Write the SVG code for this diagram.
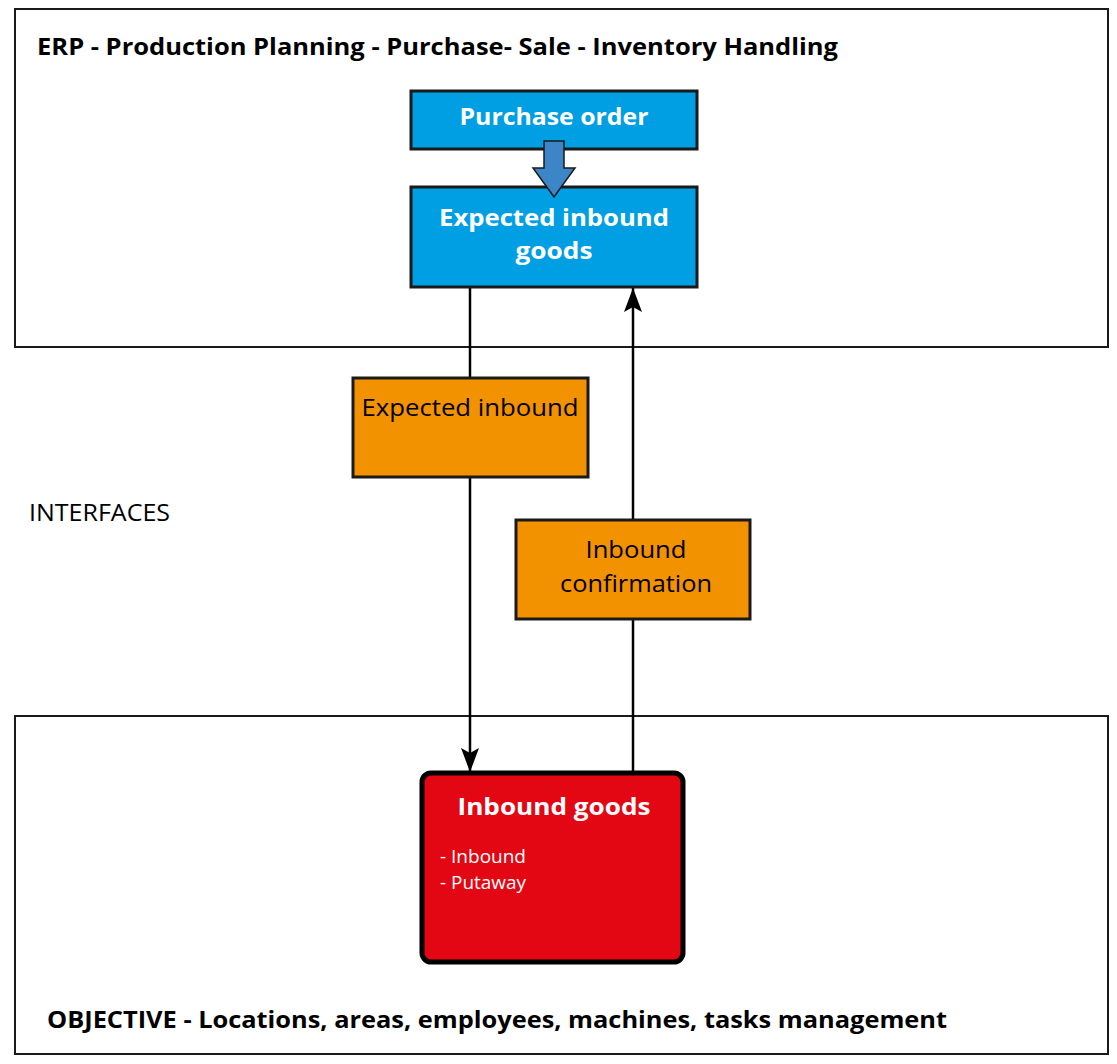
<svg xmlns="http://www.w3.org/2000/svg" width="1117" height="1064" viewBox="0 0 1117 1064">
<style>
.frame{fill:#fff;stroke:#1a1a1a;stroke-width:2}
.blue{fill:#009FE3;stroke:#1a1a1a;stroke-width:3}
.orange{fill:#F39200;stroke:#1a1a1a;stroke-width:3}
.red{fill:#E30613;stroke:#000;stroke-width:5}
.t{font-family:"Open Sans","Liberation Sans",sans-serif}
.hb{font-size:24px;font-weight:bold;fill:#000}
.wb{font-size:24px;font-weight:bold;fill:#fff}
.r{font-size:23px;fill:#000}
.ws{font-size:18px;fill:#fff}
.conn{stroke:#000;stroke-width:2.5;fill:none}
</style>
<defs>
<marker id="ah" viewBox="0 0 24 18" refX="24" refY="9" markerWidth="24" markerHeight="18" markerUnits="userSpaceOnUse" orient="auto">
<path d="M0,0 L24,9 L0,18 L5,9 Z" fill="#000"/>
</marker>
</defs>
<g id="erp">
<rect class="frame" x="15" y="9" width="1093" height="338"/>
<text class="t hb" x="37" y="55" textLength="801" lengthAdjust="spacingAndGlyphs">ERP - Production Planning - Purchase- Sale - Inventory Handling</text>
</g>
<g id="objective">
<rect class="frame" x="15" y="716" width="1093" height="338"/>
<text class="t hb" x="47" y="1028" textLength="900" lengthAdjust="spacingAndGlyphs">OBJECTIVE - Locations, areas, employees, machines, tasks management</text>
</g>
<g id="interfaces">
<text class="t r" x="29" y="521" textLength="141" lengthAdjust="spacingAndGlyphs">INTERFACES</text>
</g>
<g id="connectors">
<line class="conn" x1="470" y1="288" x2="470" y2="378"/>
<line class="conn" x1="470" y1="478" x2="470" y2="772" marker-end="url(#ah)"/>
<line class="conn" x1="633" y1="771" x2="633" y2="620"/>
<line class="conn" x1="633" y1="520" x2="633" y2="288" marker-end="url(#ah)"/>
</g>
<g id="purchase-order">
<rect class="blue" x="411" y="91" width="286" height="58"/>
<text class="t wb" x="554" y="125" text-anchor="middle" textLength="189" lengthAdjust="spacingAndGlyphs">Purchase order</text>
</g>
<g id="expected-inbound-goods">
<rect class="blue" x="411" y="187" width="286" height="100"/>
<text class="t wb" x="554" y="226" text-anchor="middle" textLength="230" lengthAdjust="spacingAndGlyphs">Expected inbound</text>
<text class="t wb" x="554" y="259" text-anchor="middle" textLength="77" lengthAdjust="spacingAndGlyphs">goods</text>
</g>
<g id="blue-arrow">
<path d="M544,141 L564,141 L564,168 L575,168 L554,197 L533,168 L544,168 Z" fill="#3C85C6" stroke="#1a1a1a" stroke-width="1.5"/>
</g>
<g id="expected-inbound">
<rect class="orange" x="353" y="378" width="235" height="99"/>
<text class="t r" x="470" y="416" text-anchor="middle" textLength="217" lengthAdjust="spacingAndGlyphs">Expected inbound</text>
</g>
<g id="inbound-confirmation">
<rect class="orange" x="516" y="520" width="234" height="99"/>
<text class="t r" x="636" y="558" text-anchor="middle" textLength="101" lengthAdjust="spacingAndGlyphs">Inbound</text>
<text class="t r" x="636" y="592" text-anchor="middle" textLength="152" lengthAdjust="spacingAndGlyphs">confirmation</text>
</g>
<g id="inbound-goods">
<rect class="red" x="422" y="773" width="261" height="189" rx="9"/>
<text class="t wb" x="554" y="815" text-anchor="middle" textLength="193" lengthAdjust="spacingAndGlyphs">Inbound goods</text>
<text class="t ws" x="440" y="863" textLength="86" lengthAdjust="spacingAndGlyphs">- Inbound</text>
<text class="t ws" x="440" y="889" textLength="86" lengthAdjust="spacingAndGlyphs">- Putaway</text>
</g>
</svg>
